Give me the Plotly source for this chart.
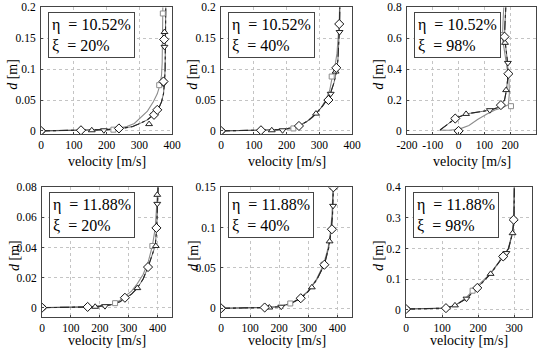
import plotly.graph_objects as go

W, H = 544, 349
FONT = "Liberation Serif"

# ---------------- data ----------------
# Panel 1: eta = 10.52 %, xi = 20 %
p1_black_v = [0, 120, 200, 245, 280, 302, 325, 343, 358, 368, 374, 377, 379, 380, 381]
p1_black_d = [0, 0.001, 0.002, 0.004, 0.007, 0.012, 0.018, 0.026, 0.035, 0.047, 0.060, 0.078, 0.10, 0.15, 0.2]
p1_gray_v = [0, 120, 200, 230, 262, 285, 302, 325, 343, 355, 363, 368, 370, 371, 372]
p1_gray_d = [0, 0.001, 0.002, 0.004, 0.007, 0.012, 0.020, 0.032, 0.047, 0.060, 0.074, 0.09, 0.11, 0.15, 0.2]
p1_sq_v, p1_sq_d = [0, 221, 361, 372], [0, 0.002, 0.074, 0.19]
p1_dia_v, p1_dia_d = [0, 122, 238, 345, 355, 374, 376], [0, 0.001, 0.004, 0.026, 0.034, 0.080, 0.148]
p1_up_v, p1_up_d = [0, 155, 330, 375, 377], [0, 0.001, 0.011, 0.082, 0.160]
p1_dn_v, p1_dn_d = [0, 192, 345, 374, 377], [0, 0.001, 0.026, 0.076, 0.136]

# Panel 2: eta = 10.52 %, xi = 40 %
p2_black_v = [0, 120, 190, 236, 265, 290, 310, 323, 335, 345, 352, 357, 360, 362, 363]
p2_black_d = [0, 0.001, 0.002, 0.008, 0.016, 0.028, 0.040, 0.050, 0.062, 0.078, 0.095, 0.115, 0.14, 0.17, 0.2]
p2_gray_v = [0, 120, 190, 221, 250, 280, 305, 320, 332, 340, 348, 354, 358, 361, 362]
p2_gray_d = [0, 0.001, 0.002, 0.004, 0.011, 0.022, 0.037, 0.050, 0.066, 0.088, 0.105, 0.125, 0.15, 0.175, 0.2]
p2_sq_v, p2_sq_d = [0, 221, 338], [0, 0.004, 0.088]
p2_dia_v, p2_dia_d = [0, 122, 238, 328, 352, 361], [0, 0.001, 0.008, 0.050, 0.102, 0.173]
p2_up_v, p2_up_d = [0, 155, 290, 350], [0, 0.001, 0.028, 0.096]
p2_dn_v, p2_dn_d = [0, 188, 335, 362], [0, 0.001, 0.060, 0.160]

# Panel 3: eta = 10.52 %, xi = 98 %
p3_black_v = [-72, -40, -13, 29, 80, 121, 150, 164, 178, 185, 190, 191, 188, 182, 178, 180, 183]
p3_black_d = [0.006, 0.045, 0.08, 0.11, 0.125, 0.134, 0.15, 0.167, 0.2, 0.26, 0.33, 0.4, 0.47, 0.54, 0.61, 0.7, 0.8]
p3_gray_v = [-72, -40, 0, 40, 75, 110, 141, 170, 193, 197, 195, 188, 178, 170, 172, 175]
p3_gray_d = [0.005, 0.004, 0.01, 0.035, 0.075, 0.11, 0.135, 0.15, 0.17, 0.25, 0.33, 0.4, 0.5, 0.6, 0.7, 0.8]
p3_sq_v, p3_sq_d = [0, 203, 167], [0, 0.16, 0.62]
p3_dia_v, p3_dia_d = [0, -13, 164, 193, 178], [0, 0.08, 0.167, 0.37, 0.61]
p3_up_v, p3_up_d = [29, 184, 180], [0.11, 0.264, 0.57]
p3_dn_v, p3_dn_d = [121, 191], [0.134, 0.44]

# Panel 4: eta = 11.88 %, xi = 20 %
p4_black_v = [0, 100, 160, 200, 240, 270, 290, 310, 330, 350, 367, 380, 392, 397, 400, 402]
p4_black_d = [0, 0.0002, 0.0005, 0.001, 0.002, 0.004, 0.0065, 0.009, 0.013, 0.019, 0.027, 0.034, 0.041, 0.053, 0.068, 0.08]
p4_gray_v = [0, 100, 160, 200, 240, 253, 270, 290, 310, 330, 350, 367, 382, 392, 398, 401]
p4_gray_d = [0, 0.0002, 0.0005, 0.001, 0.002, 0.003, 0.005, 0.008, 0.011, 0.016, 0.022, 0.030, 0.041, 0.053, 0.068, 0.08]
p4_sq_v, p4_sq_d = [0, 253, 382], [0, 0.003, 0.041]
p4_dia_v, p4_dia_d = [0, 158, 287, 367, 396], [0, 0.0005, 0.0066, 0.027, 0.053]
p4_up_v, p4_up_d = [0, 184, 330, 394, 399], [0, 0.0006, 0.013, 0.041, 0.075]
p4_dn_v, p4_dn_d = [0, 218, 399], [0, 0.001, 0.069]

# Panel 5: eta = 11.88 %, xi = 40 %
p5_black_v = [0, 100, 150, 200, 240, 274, 300, 330, 355, 370, 378, 383, 385, 386]
p5_black_d = [0, 0.0005, 0.001, 0.002, 0.006, 0.0125, 0.021, 0.036, 0.054, 0.075, 0.095, 0.115, 0.135, 0.15]
p5_gray_v = [0, 100, 150, 200, 238, 270, 298, 328, 352, 368, 376, 381, 384, 385]
p5_gray_d = [0, 0.0005, 0.001, 0.002, 0.006, 0.0125, 0.021, 0.036, 0.054, 0.075, 0.095, 0.115, 0.135, 0.15]
p5_sq_v, p5_sq_d = [0, 238, 352], [0, 0.006, 0.054]
p5_dia_v, p5_dia_d = [0, 150, 274, 355, 381, 386], [0, 0.001, 0.0125, 0.054, 0.098, 0.15]
p5_up_v, p5_up_d = [0, 166, 312, 373, 386], [0, 0.001, 0.026, 0.083, 0.15]
p5_dn_v, p5_dn_d = [0, 207, 385], [0, 0.002, 0.127]

# Panel 6: eta = 11.88 %, xi = 98 %
p6_black_v = [0, 60, 111, 136, 168, 198, 235, 270, 285, 296, 300, 301]
p6_black_d = [0.002, 0.003, 0.005, 0.014, 0.036, 0.071, 0.117, 0.174, 0.2, 0.25, 0.294, 0.4]
p6_gray_v = [0, 60, 111, 138, 166, 185, 232, 268, 284, 295, 299, 300]
p6_gray_d = [0.002, 0.003, 0.005, 0.015, 0.038, 0.062, 0.115, 0.172, 0.2, 0.25, 0.294, 0.4]
p6_sq_v, p6_sq_d = [0, 185, 268], [0.002, 0.062, 0.172]
p6_dia_v, p6_dia_d = [0, 111, 198, 270, 299], [0.002, 0.005, 0.071, 0.174, 0.294]
p6_up_v, p6_up_d = [0, 136, 235, 296], [0.002, 0.014, 0.117, 0.25]
p6_dn_v, p6_dn_d = [0, 168, 279], [0.002, 0.036, 0.185]

eta_labels = ["10.52%", "10.52%", "10.52%", "11.88%", "11.88%", "11.88%"]
xi_labels = ["20%", "40%", "98%", "20%", "40%", "98%"]

x_ranges = [[0, 400], [0, 400], [-200, 300], [0, 450], [0, 450], [0, 350]]
x_tickvals = [[0, 100, 200, 300, 400], [0, 100, 200, 300, 400],
              [-200, -100, 0, 100, 200, 300],
              [0, 100, 200, 300, 400], [0, 100, 200, 300, 400], [0, 100, 200, 300]]
x_ticktext = [["0", "100", "200", "300", "400"], ["0", "100", "200", "300", "400"],
              ["-200", "-100", "0", "100", "200", "300"],
              ["0", "100", "200", "300", "400"], ["0", "100", "200", "300", "400"],
              ["0", "100", "200", "300"]]
y_ranges = [[-0.0055, 0.2], [-0.0055, 0.2], [-0.022, 0.8],
            [-0.006, 0.08], [-0.0104, 0.15], [-0.023, 0.4]]
y_tickvals = [[0, 0.05, 0.1, 0.15, 0.2], [0, 0.05, 0.1, 0.15, 0.2], [0, 0.2, 0.4, 0.6, 0.8],
              [0, 0.02, 0.04, 0.06, 0.08], [0, 0.05, 0.1, 0.15], [0, 0.1, 0.2, 0.3, 0.4]]
y_ticktext = [["0", "0.05", "0.1", "0.15", "0.2"], ["0", "0.05", "0.1", "0.15", "0.2"],
              ["0", "0.2", "0.4", "0.6", "0.8"],
              ["0", "0.02", "0.04", "0.06", "0.08"], ["0", "0.05", "0.1", "0.15"],
              ["0", "0.1", "0.2", "0.3", "0.4"]]

panels = [
    (p1_black_v, p1_black_d, p1_gray_v, p1_gray_d, p1_sq_v, p1_sq_d, p1_dia_v, p1_dia_d, p1_up_v, p1_up_d, p1_dn_v, p1_dn_d),
    (p2_black_v, p2_black_d, p2_gray_v, p2_gray_d, p2_sq_v, p2_sq_d, p2_dia_v, p2_dia_d, p2_up_v, p2_up_d, p2_dn_v, p2_dn_d),
    (p3_black_v, p3_black_d, p3_gray_v, p3_gray_d, p3_sq_v, p3_sq_d, p3_dia_v, p3_dia_d, p3_up_v, p3_up_d, p3_dn_v, p3_dn_d),
    (p4_black_v, p4_black_d, p4_gray_v, p4_gray_d, p4_sq_v, p4_sq_d, p4_dia_v, p4_dia_d, p4_up_v, p4_up_d, p4_dn_v, p4_dn_d),
    (p5_black_v, p5_black_d, p5_gray_v, p5_gray_d, p5_sq_v, p5_sq_d, p5_dia_v, p5_dia_d, p5_up_v, p5_up_d, p5_dn_v, p5_dn_d),
    (p6_black_v, p6_black_d, p6_gray_v, p6_gray_d, p6_sq_v, p6_sq_d, p6_dia_v, p6_dia_d, p6_up_v, p6_up_d, p6_dn_v, p6_dn_d),
]

# ---------------- layout geometry (pixels) ----------------
frames_x = [(41, 172), (221, 352), (407, 536), (42, 172), (221, 352), (406, 532)]
frames_y = [(7.3, 134.3)] * 3 + [(187.3, 316.7)] * 3
title_gap = [27, 27, 27, 24, 24, 24]

fig = go.Figure()
layout = dict(
    width=W, height=H, margin=dict(l=0, r=0, t=0, b=0, autoexpand=False),
    paper_bgcolor="white", plot_bgcolor="white", showlegend=False,
    font=dict(family=FONT, color="black"),
)
annotations = []

for i, (bv, bd, gv, gd, sqv, sqd, dv, dd, uv, ud, nv, nd) in enumerate(panels):
    k = i + 1
    xa, ya = f"x{k}", f"y{k}"
    common = dict(xaxis=xa, yaxis=ya, hoverinfo="skip")
    fig.add_trace(go.Scatter(x=gv, y=gd, mode="lines", line=dict(color="#8c8c8c", width=1.1), **common))
    fig.add_trace(go.Scatter(x=bv, y=bd, mode="lines", line=dict(color="#111", width=1.1, dash="dashdot"), **common))
    fig.add_trace(go.Scatter(x=bv, y=bd, mode="lines", line=dict(color="#333", width=0.7), **common))
    fig.add_trace(go.Scatter(x=sqv, y=sqd, mode="markers",
                             marker=dict(symbol="square", size=5, color="white", line=dict(color="#8c8c8c", width=1)), **common))
    fig.add_trace(go.Scatter(x=uv, y=ud, mode="markers",
                             marker=dict(symbol="triangle-up", size=6, color="white", line=dict(color="#222", width=1)), **common))
    fig.add_trace(go.Scatter(x=nv, y=nd, mode="markers",
                             marker=dict(symbol="triangle-down", size=6, color="white", line=dict(color="#222", width=1)), **common))
    fig.add_trace(go.Scatter(x=dv, y=dd, mode="markers",
                             marker=dict(symbol="diamond", size=7, color="white", line=dict(color="#111", width=1)), **common))

    x0, x1 = frames_x[i]
    y0, y1 = frames_y[i]
    axname = "" if k == 1 else str(k)
    layout["xaxis" + axname] = dict(
        domain=[x0 / W, x1 / W], anchor=ya, range=x_ranges[i], automargin=False,
        tickvals=x_tickvals[i], ticktext=x_ticktext[i],
        showgrid=True, gridcolor="#c4c4c4", griddash="dot", gridwidth=1,
        showline=True, linecolor="#444", linewidth=1, mirror=True,
        ticks="inside", ticklen=2, tickcolor="#444", zeroline=False,
        tickfont=dict(family=FONT, size=11.5, color="black"), ticklabelstandoff=0,
    )
    layout["yaxis" + axname] = dict(
        domain=[1 - y1 / H, 1 - y0 / H], anchor=xa, range=y_ranges[i], automargin=False,
        tickvals=y_tickvals[i], ticktext=y_ticktext[i],
        showgrid=True, gridcolor="#c4c4c4", griddash="dot", gridwidth=1,
        showline=True, linecolor="#444", linewidth=1, mirror=True,
        ticks="inside", ticklen=2, tickcolor="#444", zeroline=False,
        tickfont=dict(family=FONT, size=11.5, color="black"), ticklabelstandoff=2,
    )
    # axis titles
    annotations.append(dict(
        text="velocity [m/s]", xref="paper", yref="paper",
        x=(x0 + x1) / 2 / W, y=1 - (y1 + title_gap[i]) / H, xanchor="center", yanchor="middle",
        showarrow=False, font=dict(family=FONT, size=14, color="black")))
    annotations.append(dict(
        text="<i>d</i> [m]", xref="paper", yref="paper",
        x=(x0 - 28) / W, y=1 - ((y0 + y1) / 2 + 4) / H, xanchor="center", yanchor="middle",
        textangle=-90, showarrow=False, font=dict(family=FONT, size=14, color="black")))
    # parameter box
    annotations.append(dict(
        text=f"η  = {eta_labels[i]}<br>ξ  = {xi_labels[i]}",
        xref="paper", yref="paper",
        x=(x0 + 7) / W, y=1 - (y0 + 5) / H, xanchor="left", yanchor="top",
        align="left", showarrow=False, bgcolor="white",
        bordercolor="#444", borderwidth=1, borderpad=3,
        font=dict(family=FONT, size=16, color="black")))

layout["annotations"] = annotations
fig.update_layout(**layout)
fig.write_html("out.html", post_script="document.body.style.margin='0px';",
               config={"displayModeBar": False})
